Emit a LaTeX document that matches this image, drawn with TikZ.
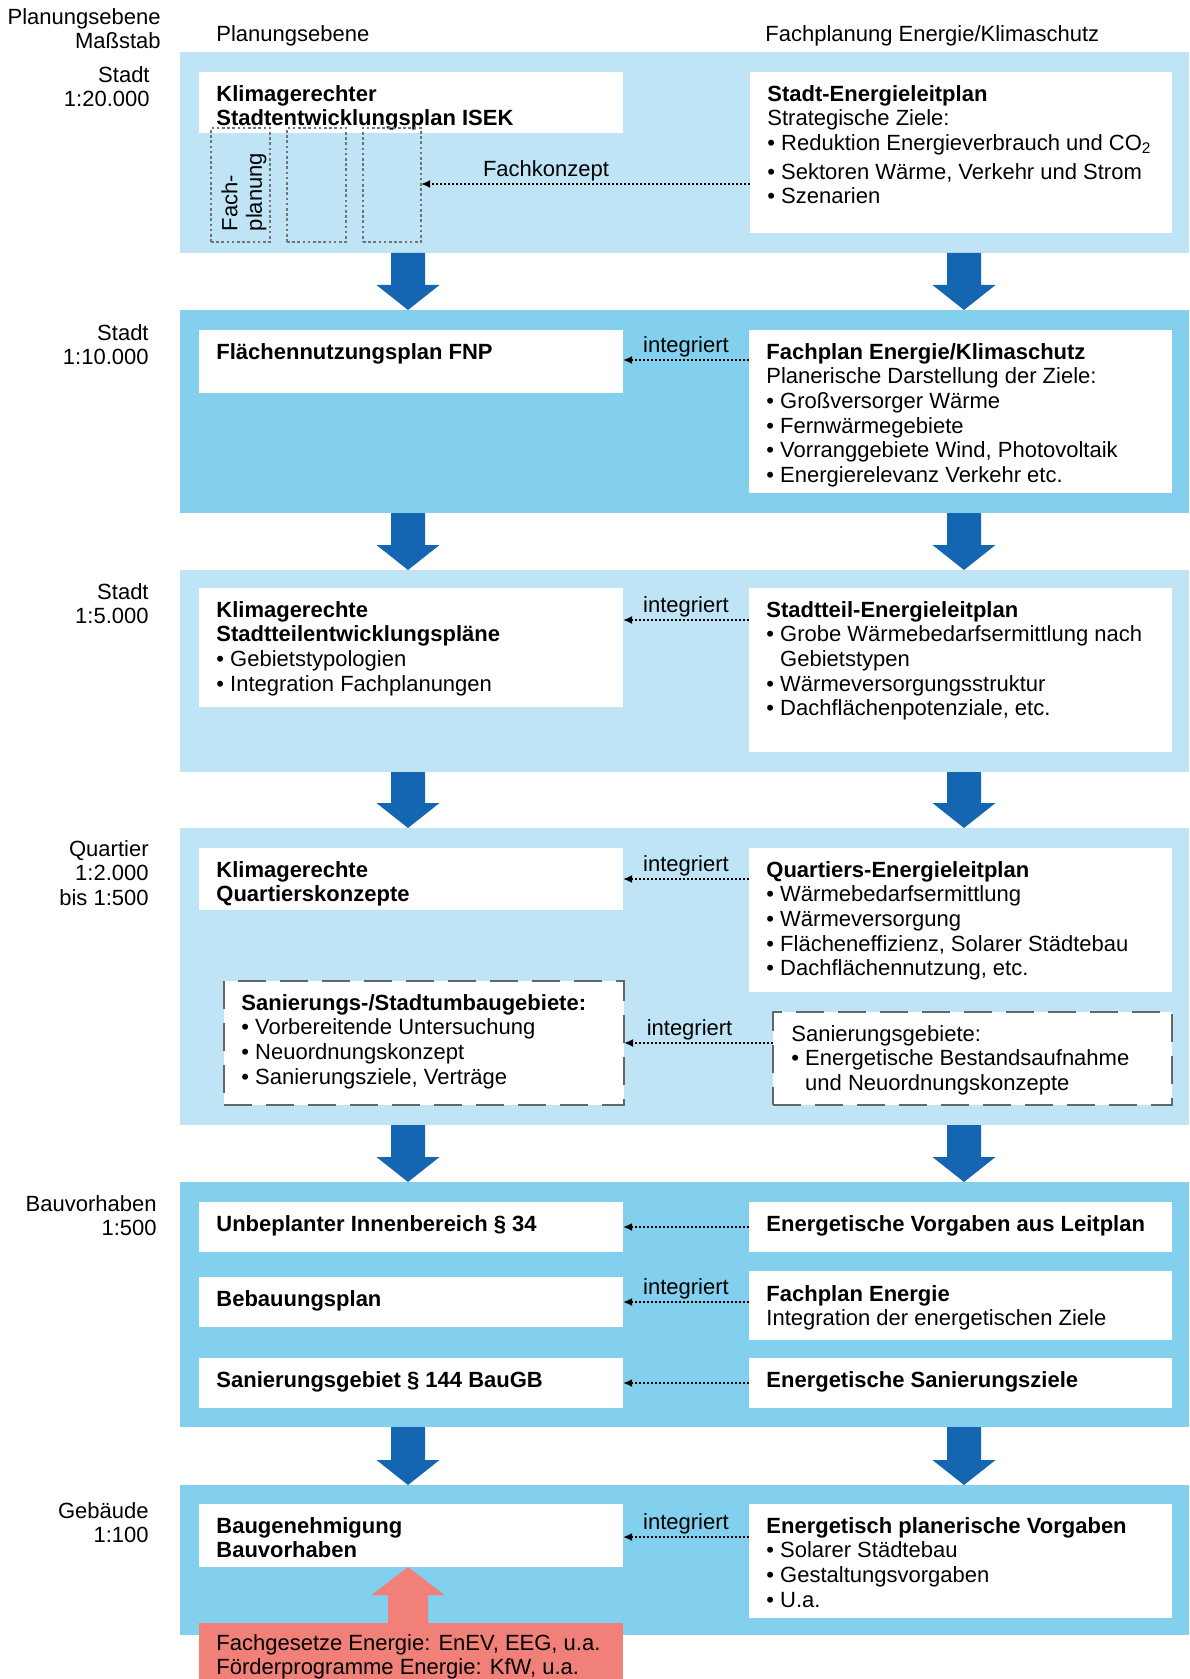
\documentclass[tikz,border=0pt]{standalone}
\usepackage{fontspec}
\setmainfont{Liberation Sans}
\usetikzlibrary{fit,calc,arrows.meta}
\definecolor{hell}{HTML}{BEE4F6}
\definecolor{dunkel}{HTML}{82D0EE}
\definecolor{blau}{HTML}{1466B3}
\definecolor{rot}{HTML}{F08078}

\begin{document}
\begin{tikzpicture}[x=0.5pt,y=-0.5pt,
    every node/.style={font=\fontsize{11}{12.3}\selectfont},
    band/.style={inner sep=0pt, outer sep=0pt, draw=none},
    kasten/.style={fill=white, inner sep=0pt, outer sep=0pt},
    strich/.style={fill=white, inner sep=0pt, outer sep=0pt, draw=black!60, line width=.9pt, dash pattern=on 14pt off 7pt},
    fach/.style={inner sep=0pt, outer sep=0pt, draw=black!55, line width=.7pt, dash pattern=on 1.3pt off 1.3pt},
    txt/.style={anchor=north west, inner sep=0pt, align=left},
    mst/.style={anchor=north east, inner sep=0pt, align=right},
    punkt/.style={line width=1pt, dash pattern=on 1pt off 1pt, -{Latex[length=4.5pt,width=4pt]}},
    lab/.style={above=1pt, inner sep=0pt}]
  \useasboundingbox (0,0) rectangle (1189,1679);
  % ------ Ebenen -----------------------------
  \node[band, fill=hell,   fit={(180,52) (1189,253)}]    (e1) {};
  \node[band, fill=dunkel, fit={(180,310) (1189,513)}]   (e2) {};
  \node[band, fill=hell,   fit={(180,570) (1189,772)}]   (e3) {};
  \node[band, fill=hell,   fit={(180,828) (1189,1125)}]  (e4) {};
  \node[band, fill=dunkel, fit={(180,1182) (1189,1427)}] (e5) {};
  \node[band, fill=dunkel, fit={(180,1485) (1189,1635)}] (e6) {};
  \coordinate (lk) at (408,0);
  \coordinate (rk) at (964,0);
  \foreach \a/\b in {e1/e2,e2/e3,e3/e4,e4/e5,e5/e6}
    \foreach \k in {lk,rk}{
      \coordinate (o) at (\a.south -| \k);
      \coordinate (u) at (\b.north -| \k);
      \fill[blau] (u) -- ($(u)+(31.5,-25)$) -- ($(u)+(17,-25)$) -- ($(o)+(17,0)$)
        -- ($(o)+(-17,0)$) -- ($(u)+(-17,-25)$) -- ($(u)+(-31.5,-25)$) -- cycle;
    }
  % ------ Kopf und Massstab -----------------------------
  \node[txt] (h1) at (216,25) {Planungsebene};
  \node[txt] (h2) at (765,25) {Fachplanung Energie/Klimaschutz};
  \node[mst] (m0) at (161,8) {Planungsebene\\Maßstab};
  \node[mst] (m1) at (150,66) {Stadt\\1:20.000};
  \node[mst] (m2) at (149,324) {Stadt\\1:10.000};
  \node[mst] (m3) at (149,583) {Stadt\\1:5.000};
  \node[mst] (m4) at (149,840) {Quartier\\1:2.000\\bis 1:500};
  \node[mst] (m5) at (157,1195) {Bauvorhaben\\1:500};
  \node[mst] (m6) at (149,1502) {Gebäude\\1:100};
  % ------ Stadt 1:20.000 -----------------------------
  \node[kasten, fit={(199,72) (623,133)}] (isek) {};
  \node[txt] (isekT) at ([shift={(17,13)}]isek.north west) {\textbf{Klimagerechter}\\\textbf{Stadtentwicklungsplan ISEK}};
  \node[fach, fit={(211,128) (270,242)}] (d1) {};
  \node[fach, fit={(287,128) (346,242)}] (d2) {};
  \node[fach, fit={(363,128) (421,242)}] (d3) {};
  \node[rotate=90, align=left, inner sep=0pt] (fpl) at (244,192) {Fach-\\planung};
  \node[kasten, fit={(750,72) (1172,233)}] (sel) {};
  \node[txt] (selT) at ([shift={(17,13)}]sel.north west) {\textbf{Stadt-Energieleitplan}\\Strategische Ziele:\\• Reduktion Energieverbrauch und CO\textsubscript{2}\\[2pt]• Sektoren Wärme, Verkehr und Strom\\• Szenarien};
  \coordinate (p0) at ([yshift=-56pt]sel.north west);
  \draw[punkt] (p0) -- (p0 -| d3.east) node[lab, pos=.62] (fk) {Fachkonzept};
  % ------ Stadt 1:10.000 -----------------------------
  \node[kasten, fit={(199,330) (623,393)}] (fnp) {};
  \node[txt] (fnpT) at ([shift={(17,13)}]fnp.north west) {\textbf{Flächennutzungsplan FNP}};
  \node[kasten, fit={(749,330) (1172,493)}] (fplan) {};
  \node[txt] (fplanT) at ([shift={(17,13)}]fplan.north west) {\textbf{Fachplan Energie/Klimaschutz}\\Planerische Darstellung der Ziele:\\• Großversorger Wärme\\• Fernwärmegebiete\\• Vorranggebiete Wind, Photovoltaik\\• Energierelevanz Verkehr etc.};
  \coordinate (p1) at ([yshift=-15pt]fplan.north west);
  \draw[punkt] (p1) -- (p1 -| fnp.east) node[lab, midway] (i1) {integriert};
  % ------ Stadt 1:5.000 -----------------------------
  \node[kasten, fit={(199,588) (623,707)}] (stek) {};
  \node[txt] (stekT) at ([shift={(17,13)}]stek.north west) {\textbf{Klimagerechte}\\\textbf{Stadtteilentwicklungspläne}\\• Gebietstypologien\\• Integration Fachplanungen};
  \node[kasten, fit={(749,588) (1172,752)}] (stel) {};
  \node[txt] (stelT) at ([shift={(17,13)}]stel.north west) {\textbf{Stadtteil-Energieleitplan}\\• Grobe Wärmebedarfsermittlung nach\\\phantom{• }Gebietstypen\\• Wärmeversorgungsstruktur\\• Dachflächenpotenziale, etc.};
  \coordinate (p2) at ([yshift=-16pt]stel.north west);
  \draw[punkt] (p2) -- (p2 -| stek.east) node[lab, midway] (i2) {integriert};
  % ------ Quartier -----------------------------
  \node[kasten, fit={(199,848) (623,910)}] (qk) {};
  \node[txt] (qkT) at ([shift={(17,13)}]qk.north west) {\textbf{Klimagerechte}\\\textbf{Quartierskonzepte}};
  \node[kasten, fit={(749,848) (1172,992)}] (qel) {};
  \node[txt] (qelT) at ([shift={(17,13)}]qel.north west) {\textbf{Quartiers-Energieleitplan}\\• Wärmebedarfsermittlung\\• Wärmeversorgung\\• Flächeneffizienz, Solarer Städtebau\\• Dachflächennutzung, etc.};
  \coordinate (p3) at ([yshift=-15.5pt]qel.north west);
  \draw[punkt] (p3) -- (p3 -| qk.east) node[lab, midway] (i3) {integriert};
  \node[strich, fit={(224,981) (624,1105)}] (sanl) {};
  \node[txt] (sanlT) at ([shift={(17,13)}]sanl.north west) {\textbf{Sanierungs-/Stadtumbaugebiete:}\\• Vorbereitende Untersuchung\\• Neuordnungskonzept\\• Sanierungsziele, Verträge};
  \node[strich, fit={(773,1012) (1172,1105)}] (sanr) {};
  \node[txt] (sanrT) at ([shift={(18,13)}]sanr.north west) {Sanierungsgebiete:\\• Energetische Bestandsaufnahme\\\phantom{• }und Neuordnungskonzepte};
  \coordinate (p4) at ([yshift=-15.5pt]sanr.north west);
  \draw[punkt] (p4) -- (p4 -| sanl.east) node[lab, pos=.56] (i4) {integriert};
  % ------ Bauvorhaben -----------------------------
  \node[kasten, fit={(199,1202) (623,1252)}] (unb) {};
  \node[txt] (unbT) at ([shift={(17,13)}]unb.north west) {\textbf{Unbeplanter Innenbereich § 34}};
  \node[kasten, fit={(749,1202) (1172,1252)}] (evl) {};
  \node[txt] (evlT) at ([shift={(17,13)}]evl.north west) {\textbf{Energetische Vorgaben aus Leitplan}};
  \node[kasten, fit={(199,1277) (623,1327)}] (bplan) {};
  \node[txt] (bplanT) at ([shift={(17,13)}]bplan.north west) {\textbf{Bebauungsplan}};
  \node[kasten, fit={(749,1271) (1172,1340)}] (fpe) {};
  \node[txt] (fpeT) at ([shift={(17,14)}]fpe.north west) {\textbf{Fachplan Energie}\\Integration der energetischen Ziele};
  \node[kasten, fit={(199,1358) (623,1408)}] (sgeb) {};
  \node[txt] (sgebT) at ([shift={(17,13)}]sgeb.north west) {\textbf{Sanierungsgebiet § 144 BauGB}};
  \node[kasten, fit={(749,1358) (1172,1408)}] (esz) {};
  \node[txt] (eszT) at ([shift={(17,13)}]esz.north west) {\textbf{Energetische Sanierungsziele}};
  \draw[punkt] (evl.west) -- (unb.east);
  \draw[punkt] (fpe.west |- bplan.east) -- (bplan.east) node[lab, midway] (i5) {integriert};
  \draw[punkt] (esz.west) -- (sgeb.east);
  % ------ Gebaeude -----------------------------
  \node[kasten, fit={(199,1504) (623,1567)}] (baug) {};
  \node[txt] (baugT) at ([shift={(17,13)}]baug.north west) {\textbf{Baugenehmigung}\\\textbf{Bauvorhaben}};
  \node[kasten, fit={(749,1504) (1172,1618)}] (epv) {};
  \node[txt] (epvT) at ([shift={(17,13)}]epv.north west) {\textbf{Energetisch planerische Vorgaben}\\• Solarer Städtebau\\• Gestaltungsvorgaben\\• U.a.};
  \coordinate (p6) at ([yshift=-16.5pt]epv.north west);
  \draw[punkt] (p6) -- (p6 -| baug.east) node[lab, midway] (i6) {integriert};
  \node[band, fill=rot, fit={(199,1623) (623,1679)}] (gesetz) {};
  \node[txt] (gesetzT) at ([shift={(17,11)}]gesetz.north west) {Fachgesetze Energie: EnEV, EEG, u.a.\\Förderprogramme Energie: KfW, u.a.};
  \coordinate (o) at (gesetz.north -| lk);
  \coordinate (u) at (baug.south -| lk);
  \fill[rot] (u) -- ($(u)+(36.5,28)$) -- ($(u)+(20,28)$) -- ($(o)+(20,0)$)
    -- ($(o)+(-20,0)$) -- ($(u)+(-20,28)$) -- ($(u)+(-36.5,28)$) -- cycle;
\end{tikzpicture}
\end{document}
